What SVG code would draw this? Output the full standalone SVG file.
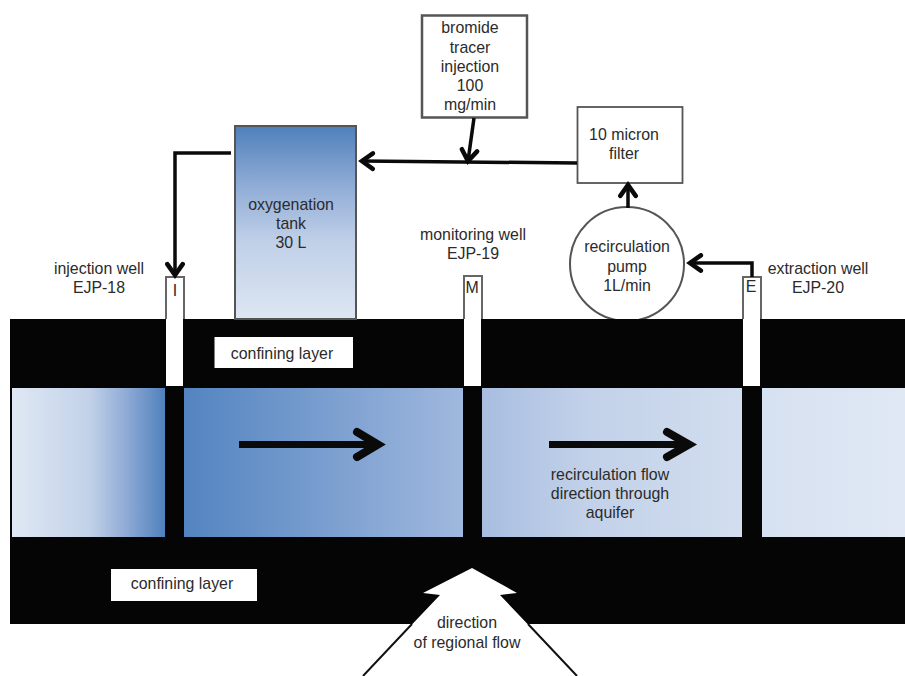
<svg xmlns="http://www.w3.org/2000/svg" width="905" height="676" viewBox="0 0 905 676">
<defs>
<linearGradient id="tankG" x1="0" y1="0" x2="0" y2="1"><stop offset="0" stop-color="#4f80ba"/><stop offset="0.3" stop-color="#8eabd6"/><stop offset="0.6" stop-color="#c0d0e8"/><stop offset="1" stop-color="#dde6f3"/></linearGradient>
<linearGradient id="a1" x1="0" y1="0" x2="1" y2="0"><stop offset="0" stop-color="#dfe8f4"/><stop offset="0.5" stop-color="#c3d2e9"/><stop offset="0.75" stop-color="#8faad5"/><stop offset="1" stop-color="#4f81bd"/></linearGradient>
<linearGradient id="a2" x1="0" y1="0" x2="1" y2="0"><stop offset="0" stop-color="#5384c0"/><stop offset="1" stop-color="#a0b8de"/></linearGradient>
<linearGradient id="a3" x1="0" y1="0" x2="1" y2="0"><stop offset="0" stop-color="#a8bee0"/><stop offset="0.4" stop-color="#c2d1e9"/><stop offset="1" stop-color="#d2deef"/></linearGradient>
<linearGradient id="a4" x1="0" y1="0" x2="1" y2="0"><stop offset="0" stop-color="#d6e1f1"/><stop offset="1" stop-color="#e0e8f4"/></linearGradient>
<marker id="h" markerWidth="6" markerHeight="6" refX="4.6" refY="3" orient="auto" markerUnits="strokeWidth"><path d="M1.5 0.8 L4.6 3 L1.5 5.2" fill="none" stroke="#0a0a0a" stroke-width="1.3" stroke-linecap="round"/></marker>
</defs>
<style>
text{font-family:"Liberation Sans",Arial,sans-serif;font-size:15.9px;fill:#2b2b2b;text-anchor:middle}
.box{fill:#fff;stroke:#555;stroke-width:2.5}
.well{fill:#fff}
.wellline{fill:none;stroke:#666;stroke-width:2}
.flow{fill:none;stroke:#0a0a0a;stroke-width:3.5;marker-end:url(#h)}
.big{fill:none;stroke:#0a0a0a;stroke-width:7}
.bigh{fill:none;stroke:#0a0a0a;stroke-width:8;stroke-linecap:round;stroke-linejoin:miter}
.edge{fill:none;stroke:#111;stroke-width:2}
</style>
<rect width="905" height="676" fill="#fff"/>
<g id="aquifer">
<rect x="10" y="319" width="895" height="305" fill="#050505"/>
<rect x="12" y="388" width="153" height="149" fill="url(#a1)"/>
<rect x="184" y="388" width="279" height="149" fill="url(#a2)"/>
<rect x="482" y="388" width="260" height="149" fill="url(#a3)"/>
<rect x="762" y="388" width="143" height="149" fill="url(#a4)"/>
</g>
<g id="oxygenation-tank">
<rect x="235" y="126" width="121" height="193" fill="url(#tankG)" stroke="#555" stroke-width="2"/>
<text x="291" y="210">oxygenation</text><text x="291" y="229">tank</text><text x="291" y="248">30 L</text>
</g>
<g id="bromide-injection">
<rect class="box" x="422" y="15.500" width="105" height="102"/>
<text x="470" y="33">bromide</text><text x="470" y="53">tracer</text><text x="470" y="72">injection</text><text x="470" y="91">100</text><text x="470" y="110">mg/min</text>
</g>
<g id="filter">
<rect x="577.500" y="107" width="105" height="76" fill="#fff" stroke="#555" stroke-width="1.800"/>
<text x="624" y="140">10 micron</text><text x="624" y="159">filter</text>
</g>
<g id="pump">
<circle cx="627" cy="264" r="57" fill="#fff" stroke="#555" stroke-width="2"/>
<rect x="560" y="319" width="130" height="8" fill="#050505"/>
<text x="627" y="252">recirculation</text><text x="627" y="272">pump</text><text x="627" y="291">1L/min</text>
</g>
<g id="injection-well">
<rect class="well" x="166" y="277" width="17" height="109"/>
<path class="wellline" d="M166 319 V277 H184 V319"/>
<text x="175" y="296">I</text>
<text x="99" y="274">injection well</text><text x="99" y="293">EJP-18</text>
</g>
<g id="monitoring-well">
<rect class="well" x="464" y="276" width="17" height="110"/>
<path class="wellline" d="M464 319 V276 H482 V319"/>
<text x="472" y="293">M</text>
<text x="473" y="240">monitoring well</text><text x="473" y="259">EJP-19</text>
</g>
<g id="extraction-well">
<rect class="well" x="743" y="277" width="17" height="109"/>
<path class="wellline" d="M743 319 V277 H761 V319"/>
<text x="751" y="292">E</text>
<text x="818" y="274">extraction well</text><text x="818" y="293">EJP-20</text>
</g>
<g id="label-confining-top">
<rect x="214.500" y="337" width="138.500" height="31" fill="#fff"/>
<text x="282" y="359">confining layer</text>
</g>
<g id="label-confining-bottom">
<rect x="111" y="569" width="146" height="32" fill="#fff"/>
<text x="182" y="589">confining layer</text>
</g>
<g id="regional-flow">
<path d="M472 568 L423 593 L440 595 L363 676 L577 676 L500 595 L517 593 Z" fill="#fff"/>
<path class="edge" d="M412 624 L363 676 M528 624 L577 676"/>
<text x="467" y="628">direction</text><text x="467" y="648">of regional flow</text>
</g>
<g id="label-recirculation-flow">
<text x="610" y="480">recirculation flow</text><text x="610" y="499">direction through</text><text x="610" y="518">aquifer</text>
</g>
<g id="connectors">
<path class="flow" d="M231 153 H175 V275"/>
<path class="flow" d="M577 163 L362 161"/>
<path class="flow" d="M474 118 L468 161"/>
<path class="flow" d="M628 208 V185"/>
<path class="flow" d="M752 277 V263 H690"/>
<path class="big" d="M239 444.500 H376"/>
<path class="bigh" d="M357 432 L378 444.500 L357 457"/>
<path class="big" d="M549 444.500 H687"/>
<path class="bigh" d="M667 432 L689 444.500 L667 457"/>
</g>
</svg>
